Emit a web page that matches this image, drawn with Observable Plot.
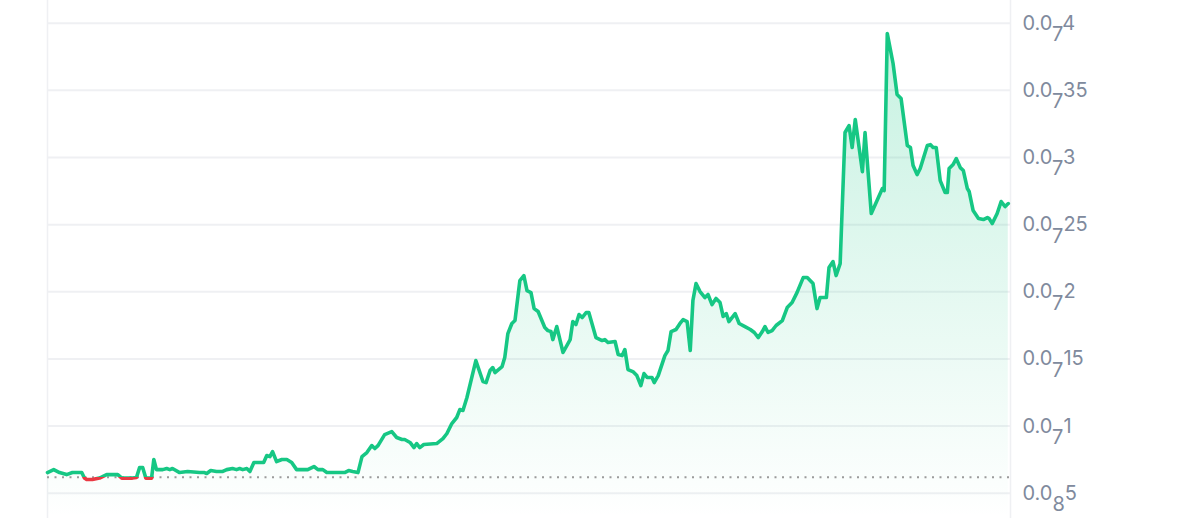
<!DOCTYPE html>
<html>
<head>
<meta charset="utf-8">
<script src="https://cdn.jsdelivr.net/npm/d3@7"></script>
<script src="https://cdn.jsdelivr.net/npm/@observablehq/plot@0.6"></script>
<style>
  html, body { margin: 0; padding: 0; background: #fff; }
  #chart svg { display: block; }
</style>
</head>
<body>
<div id="chart"></div>
<script>
// Time since start of the window (hours) and price in units of 1e-8
const hours = [0,14,27,43,56,77,83,88,101,117,133,158,167,191,200,207,214,221,234,239,245,259,268,275,281,297,315,342,353,358,367,380,394,403,416,425,432,439,448,455,464,473,482,486,493,500,506,515,527,538,549,560,574,585,599,608,619,628,650,668,677,686,698,707,718,729,736,743,758,774,785,797,803,815,824,830,837,846,875,889,898,909,920,927,934,943,963,979,986,995,1001,1006,1022,1028,1035,1044,1051,1062,1071,1078,1087,1094,1103,1118,1125,1132,1136,1145,1159,1175,1181,1188,1195,1202,1211,1217,1233,1247,1253,1260,1276,1283,1292,1298,1305,1316,1325,1334,1341,1348,1359,1364,1373,1388,1395,1402,1413,1422,1429,1438,1445,1451,1458,1467,1478,1485,1494,1503,1512,1519,1526,1532,1546,1555,1568,1580,1589,1598,1607,1613,1620,1629,1638,1652,1663,1674,1685,1699,1708,1721,1730,1737,1751,1757,1766,1773,1782,1793,1802,1809,1816,1832,1838,1852,1868,1877,1881,1888,1901,1910,1919,1933,1940,1946,1955,1962,1978,1985,1991,1998,2007,2018,2023,2027,2036,2043,2052,2059,2068,2072,2081,2093,2104,2113,2117,2124,2135,2144,2153,2160];
const priceE8 = [0.654,0.676,0.654,0.639,0.654,0.654,0.613,0.602,0.602,0.613,0.639,0.639,0.613,0.613,0.617,0.691,0.691,0.613,0.613,0.751,0.676,0.676,0.684,0.676,0.684,0.654,0.662,0.654,0.654,0.647,0.669,0.662,0.662,0.676,0.684,0.676,0.684,0.676,0.684,0.662,0.729,0.729,0.729,0.729,0.781,0.773,0.81,0.736,0.751,0.751,0.729,0.676,0.676,0.676,0.699,0.676,0.676,0.654,0.654,0.654,0.669,0.662,0.654,0.773,0.803,0.855,0.833,0.855,0.937,0.959,0.915,0.9,0.9,0.878,0.84,0.87,0.84,0.863,0.87,0.907,0.945,1.019,1.064,1.123,1.116,1.213,1.488,1.332,1.324,1.414,1.436,1.399,1.443,1.51,1.689,1.764,1.786,2.084,2.121,2.009,1.994,1.875,1.853,1.734,1.711,1.704,1.644,1.741,1.548,1.644,1.778,1.756,1.831,1.808,1.845,1.845,1.659,1.637,1.644,1.622,1.63,1.533,1.525,1.57,1.421,1.406,1.376,1.302,1.391,1.362,1.362,1.324,1.376,1.525,1.563,1.704,1.719,1.764,1.793,1.778,1.563,1.935,2.061,2.002,1.957,1.98,1.905,1.95,1.92,1.816,1.838,1.778,1.838,1.764,1.741,1.719,1.697,1.659,1.704,1.741,1.697,1.711,1.749,1.786,1.883,1.92,1.994,2.106,2.106,2.061,1.875,1.957,1.957,2.181,2.225,2.121,2.21,3.186,3.238,3.074,3.283,2.895,3.186,2.583,2.702,2.769,2.754,3.923,3.7,3.469,3.439,3.089,3.074,2.94,2.873,2.918,3.089,3.096,3.074,3.074,2.828,2.739,2.739,2.918,2.948,2.992,2.925,2.903,2.769,2.747,2.605,2.545,2.538,2.553,2.545,2.508,2.583,2.672,2.635,2.657];

// Opening price (reference line) in units of 1e-8
const openPrice = 0.619;

// Y tick values (units of 1e-8) and their label parts: lead, zero count, significant digits
const tickValues = [0.5, 1, 1.5, 2, 2.5, 3, 3.5, 4];
const tickLead   = ["0.0","0.0","0.0","0.0","0.0","0.0","0.0","0.0"];
const tickZeros  = ["8","7","7","7","7","7","7","7"];
const tickDigits = ["5","1","15","2","25","3","35","4"];

const W = 1200, H = 518;
const yDomain = [0.312, 4.169];
const xDomain = [0, 2165];
const GREEN = "#16c784", RED = "#ea3943";

const data = hours.map((h, i) => ({h, p: priceE8[i]}));
const ticks = tickValues.map((v, i) => ({v, lead: tickLead[i], zeros: tickZeros[i], digits: tickDigits[i]}));

const yS = Plot.scale({y: {domain: yDomain, range: [H, 0]}});
const baseY = yS.apply(openPrice);

const svg = Plot.plot({
  width: W, height: H,
  marginLeft: 47, marginRight: 190, marginTop: 0, marginBottom: 0,
  style: {fontFamily: "Inter, 'Noto Sans', sans-serif", background: "#fff"},
  x: {domain: xDomain, axis: null},
  y: {domain: yDomain, axis: null},
  marks: [
    Plot.ruleY(tickValues, {stroke: "#eff0f3", strokeWidth: 2}),
    Plot.ruleX([xDomain[0], xDomain[1]], {stroke: "#eff0f3", strokeWidth: 1.5}),
    Plot.areaY(data, {x: "h", y1: yDomain[0], y2: "p", fill: "url(#areaGrad)"}),
    Plot.ruleY([openPrice], {stroke: "#9b9b9b", strokeWidth: 2, strokeDasharray: "2,5.5"}),
    Plot.line(data, {x: "h", y: "p", stroke: "url(#lineGrad)", strokeWidth: 3.6, strokeLinejoin: "round", strokeLinecap: "round"}),
    Plot.text(ticks, {x: xDomain[1], y: "v", text: d => d.lead + d.zeros + d.digits, dx: 12, textAnchor: "start", fontSize: 20, fill: "#808a9d"})
  ]
});

const root = d3.select(svg);
const defs = root.insert("defs", ":first-child");
const lg = defs.append("linearGradient").attr("id", "lineGrad")
  .attr("gradientUnits", "userSpaceOnUse").attr("x1", 0).attr("x2", 0).attr("y1", 0).attr("y2", H);
const off = baseY / H;
lg.append("stop").attr("offset", off).attr("stop-color", GREEN);
lg.append("stop").attr("offset", off).attr("stop-color", RED);
const ag = defs.append("linearGradient").attr("id", "areaGrad")
  .attr("gradientUnits", "userSpaceOnUse").attr("x1", 0).attr("x2", 0).attr("y1", 0).attr("y2", H);
ag.append("stop").attr("offset", 0).attr("stop-color", GREEN).attr("stop-opacity", 0.26);
ag.append("stop").attr("offset", 1).attr("stop-color", GREEN).attr("stop-opacity", 0.0);

root.selectAll('g[aria-label="text"] text').each(function(_, i) {
  const t = ticks[i];
  if (!t) return;
  const el = d3.select(this);
  el.text(null);
  el.append("tspan").text(t.lead);
  el.append("tspan").attr("dy", "0.58em").text(t.zeros);
  el.append("tspan").attr("dy", "-0.58em").text(t.digits);
});

document.getElementById("chart").appendChild(svg);
</script>
</body>
</html>
